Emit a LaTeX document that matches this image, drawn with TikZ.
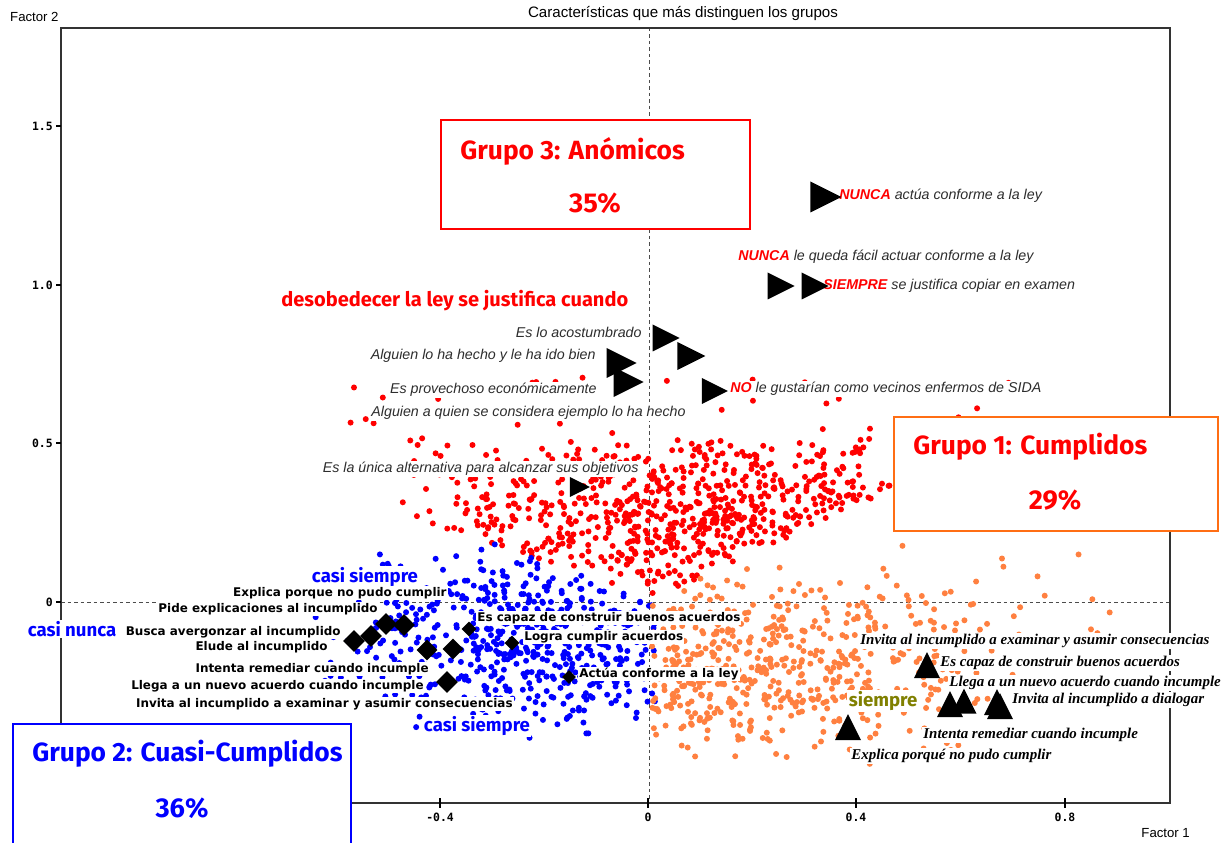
\documentclass[tikz,border=0pt]{standalone}
\usepackage{fontspec}
\setmainfont{Liberation Sans}
\newfontfamily\comicf{Fira Sans}
\newfontfamily\serff{Liberation Serif}
\newfontfamily\tahf{DejaVu Sans}
\newfontfamily\monof{DejaVu Sans Mono}
\usepackage{tikz}
\usetikzlibrary{shapes.geometric}

\definecolor{ptred}{RGB}{255,0,0}
\definecolor{ptblue}{RGB}{0,0,255}
\definecolor{ptorange}{RGB}{255,128,64}
\definecolor{boxorange}{RGB}{255,110,20}
\definecolor{siempreolive}{RGB}{128,128,0}
\definecolor{txtgray}{RGB}{45,45,45}

\newcommand\annfont{\fontsize{8.1}{9.5}\selectfont\itshape}
\newcommand\blkfont{\tahf\bfseries\fontsize{6.8}{8}\selectfont}
\newcommand\rtfont{\serff\bfseries\itshape\fontsize{8.5}{9.5}\selectfont}
\newcommand\casifont{\comicf\bfseries\fontsize{10.6}{12}\selectfont}
\newcommand\grpfont{\comicf\bfseries\fontsize{15}{17}\selectfont}
\newcommand\pctfont{\comicf\bfseries\fontsize{15.5}{17}\selectfont}
\newcommand\tickfont{\monof\bfseries\fontsize{6.5}{7}\selectfont}

\tikzset{
  ann/.style={font=\annfont, text=txtgray, fill=white, inner sep=0.6pt},
  blk/.style={font=\blkfont, fill=white, inner sep=0.6pt},
  rt/.style={font=\rtfont, fill=white, inner sep=0.6pt},
  casi/.style={font=\casifont, text=#1, fill=white, inner sep=0.8pt},
  grp/.style={font=\grpfont, text=#1, inner sep=0pt},
  pct/.style={font=\pctfont, text=#1, inner sep=0pt},
  gbox/.style={draw=#1, line width=0.4mm, fill=white, inner sep=0pt, anchor=north west},
  tck/.style={font=\tickfont, inner sep=0pt},
  rtri/.style={isosceles triangle, isosceles triangle stretches, fill=black, inner sep=0pt, minimum width=#1, minimum height=#1},
  utri/.style={rtri=#1, shape border rotate=90},
  dmd/.style={diamond, fill=black, inner sep=0pt, minimum size=#1},
}

\begin{document}
\begin{tikzpicture}[x=0.2mm,y=-0.2mm]
    \useasboundingbox (0,0) rectangle (1228,843);

    % axes
    \draw[gray!60!black, dash pattern=on 0.7mm off 0.6mm] (649,28) -- (649,803);
    \draw[gray!60!black, dash pattern=on 0.7mm off 0.6mm] (61,602) -- (1170,602);
    \draw[line width=0.25mm, black!80] (61,28) rectangle (1170,803);
    \foreach \y/\t [count=\k] in {126/1.5,285/1.0,443/0.5,602/0} {
        \draw[line width=0.25mm] (56,\y) -- (61,\y);
        \node[tck, anchor=east] (ytick\k) at (53,\y) {\t};
    }
    \foreach \x/\t [count=\k] in {440/-0.4,648/0,856/0.4,1065/0.8} {
        \draw[line width=0.25mm] (\x,798) -- (\x,808);
        \node[tck] (xtick\k) at (\x,817) {\t};
    }
    \node[font=\fontsize{8.6}{10}\selectfont] (title) at (683,14) {Características que más distinguen los grupos};
    \node[font=\fontsize{7.5}{9}\selectfont, anchor=west] (fac2) at (4,17) {Factor 2};
    \node[font=\fontsize{7.5}{9}\selectfont, anchor=east] (fac1) at (1196,833) {Factor 1};

    % clouds
    \pgfmathsetseed{2718}
    \foreach \i in {1,...,900} {
        \pgfmathsetmacro\px{700+160*(rand+rand)}
        \pgfmathsetmacro\py{520+45*(rand+rand)}
        \pgfmathtruncatemacro\ok{(\py<(\px<650 ? 490+(\px-330)*0.33 : 600-(\px-650)*0.457)) && (\py>372) && (\px>315) && (\px<1015)}
        \ifnum\ok=1 \fill[ptred] (\px,\py) circle[radius=0.6mm];\fi
    }
    \foreach \i in {1,...,55} {
        \pgfmathsetmacro\px{680+330*rand}
        \pgfmathsetmacro\py{430+55*rand}
        \fill[ptred] (\px,\py) circle[radius=0.6mm];
    }
    \foreach \i in {1,...,700} {
        \pgfmathsetmacro\px{530+115*(rand+rand)}
        \pgfmathsetmacro\py{640+50*(rand+rand)}
        \pgfmathtruncatemacro\ok{(\py>490+(\px-330)*0.33) && (\px<657) && (\px>308) && (\py<780)}
        \ifnum\ok=1 \fill[ptblue] (\px,\py) circle[radius=0.6mm];\fi
    }
    \foreach \i in {1,...,760} {
        \pgfmathsetmacro\px{730+150*(rand+rand)}
        \pgfmathsetmacro\py{665+50*(rand+rand)}
        \pgfmathtruncatemacro\ok{(\py>600-(\px-650)*0.457) && (\px>651) && (\py<790)}
        \ifnum\ok=1 \fill[ptorange] (\px,\py) circle[radius=0.6mm];\fi
    }
    \foreach \i in {1,...,25} {
        \pgfmathsetmacro\px{990+130*rand}
        \pgfmathsetmacro\py{590+50*rand}
        \fill[ptorange] (\px,\py) circle[radius=0.6mm];
    }

    % group boxes
    \node[gbox=ptred, minimum width=61.8mm, minimum height=21.8mm] (g3box) at (440,119) {};
    \node[grp=ptred, anchor=west] (g3name) at (460,151) {Grupo 3: Anómicos};
    \node[pct=ptred] (g3pct) at (595,203) {35\%};
    \node[gbox=boxorange, minimum width=64.8mm, minimum height=22.8mm] (g1box) at (893,416) {};
    \node[grp=ptred, anchor=west] (g1name) at (913,447) {Grupo 1: Cumplidos};
    \node[pct=ptred] (g1pct) at (1055,500) {29\%};
    \node[gbox=ptblue, minimum width=67.6mm, minimum height=27.4mm] (g2box) at (12,723) {};
    \node[grp=ptblue, anchor=west] (g2name) at (32,754) {Grupo 2: Cuasi-Cumplidos};
    \node[pct=ptblue] (g2pct) at (182,808) {36\%};

    % group 3 labels
    \node[casi=ptred, anchor=east, font=\comicf\bfseries\fontsize{11.4}{13}\selectfont] (desob) at (630,301) {desobedecer la ley se justifica cuando};
    \node[ann, anchor=west] (nuncaA) at (838,196) {\textcolor{ptred}{\bfseries NUNCA} actúa conforme a la ley};
    \node[ann, anchor=west] (nuncaB) at (737,257) {\textcolor{ptred}{\bfseries NUNCA} le queda fácil actuar conforme a la ley};
    \node[ann, anchor=west] (siempreA) at (822,286) {\textcolor{ptred}{\bfseries SIEMPRE} se justifica copiar en examen};
    \node[ann, anchor=west] (noSida) at (729,389) {\textcolor{ptred}{\bfseries NO} le gustarían como vecinos enfermos de SIDA};
    \node[ann, anchor=east] (acost) at (643,332) {Es lo acostumbrado};
    \node[ann, anchor=east] (bien) at (597,356) {Alguien lo ha hecho y le ha ido bien};
    \node[ann, anchor=east] (provecho) at (598,390) {Es provechoso económicamente};
    \node[ann, anchor=east] (ejemplo) at (687,413) {Alguien a quien se considera ejemplo lo ha hecho};
    \node[ann, anchor=east] (unica) at (640,469) {Es la única alternativa para alcanzar sus objetivos};

    % group 2 labels
    \node[casi=ptblue] (casiS1) at (365,577) {casi siempre};
    \node[casi=ptblue, anchor=west] (casiN) at (26,629) {casi nunca};
    \node[casi=ptblue] (casiS2) at (477,726) {casi siempre};
    \node[blk, anchor=east] (explica) at (448,593) {Explica porque no pudo cumplir};
    \node[blk, anchor=east] (pide) at (379,609) {Pide explicaciones al incumplido};
    \node[blk, anchor=east] (busca) at (342,632) {Busca avergonzar al incumplido};
    \node[blk, anchor=east] (elude) at (329,647) {Elude al incumplido};
    \node[blk, anchor=east] (intenta) at (430,669) {Intenta remediar cuando incumple};
    \node[blk, anchor=east] (llega) at (425,686) {Llega a un nuevo acuerdo cuando incumple};
    \node[blk, anchor=east] (invita) at (514,704) {Invita al incumplido a examinar y asumir consecuencias};
    \node[blk, anchor=west] (capaz) at (476,618) {Es capaz de construir buenos acuerdos};
    \node[blk, anchor=west] (logra) at (523,637) {Logra cumplir acuerdos};
    \node[blk, anchor=west] (actua) at (578,674) {Actúa conforme a la ley};

    % group 1 labels
    \node[casi=siempreolive, anchor=west] (rSiempre) at (847,701) {siempre};
    \node[rt, anchor=west] (rInvita) at (859,641) {Invita al incumplido a examinar y asumir consecuencias};
    \node[rt, anchor=west] (rCapaz) at (939,663) {Es capaz de construir buenos acuerdos};
    \node[rt, anchor=west] (rLlega) at (948,683) {Llega a un nuevo acuerdo cuando incumple};
    \node[rt, anchor=west] (rDialogar) at (1011,700) {Invita al incumplido a dialogar};
    \node[rt, anchor=west] (rIntenta) at (922,735) {Intenta remediar cuando incumple};
    \node[rt, anchor=west] (rExplica) at (850,756) {Explica porqué no pudo cumplir};

    % markers
    \node[rtri=6.2mm] (tA) at (820,197) {};
    \node[rtri=5.4mm] (tB) at (776,286) {};
    \node[rtri=5.4mm] (tC) at (810,286) {};
    \node[rtri=5.4mm] (tD) at (661,338) {};
    \node[rtri=5.6mm] (tE) at (686,356) {};
    \node[rtri=6mm] (tF) at (616,363) {};
    \node[rtri=6mm] (tG) at (623,382) {};
    \node[rtri=5.2mm] (tH) at (710,391) {};
    \node[rtri=4mm] (tI) at (576,487) {};

    \node[dmd=4.4mm] (dA) at (354,641) {};
    \node[dmd=4.4mm] (dB) at (371,636) {};
    \node[dmd=4.4mm] (dC) at (386,624) {};
    \node[dmd=4.4mm] (dD) at (404,625) {};
    \node[dmd=4.2mm] (dE) at (427,650) {};
    \node[dmd=4.2mm] (dF) at (453,649) {};
    \node[dmd=4.4mm] (dG) at (447,682) {};
    \node[dmd=3mm] (dH) at (469,629) {};
    \node[dmd=3mm] (dI) at (512,643) {};
    \node[dmd=2.8mm] (dJ) at (569,677) {};

    \node[utri=5.2mm] (uA) at (927,670) {};
    \node[utri=5.2mm] (uB) at (950,709) {};
    \node[utri=5mm] (uC) at (964,706) {};
    \node[utri=5.2mm] (uD) at (997,707) {};
    \node[utri=5.2mm] (uE) at (1000,711) {};
    \node[utri=5.2mm] (uF) at (848,732) {};
\end{tikzpicture}
\end{document}
